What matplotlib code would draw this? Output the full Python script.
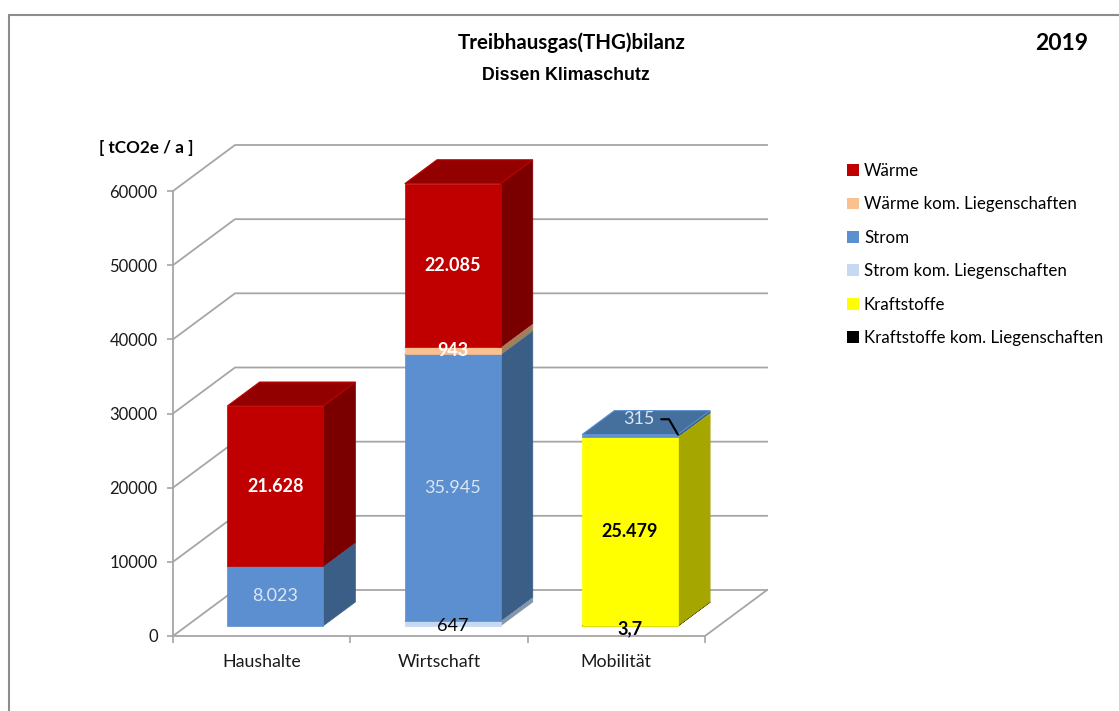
import numpy as np
import matplotlib
matplotlib.use('Agg')
import matplotlib.pyplot as plt
from matplotlib.patches import Polygon, Patch, Rectangle

# data
categories = ['Haushalte', 'Wirtschaft', 'Mobilität']
# stack order bottom -> top
series = ['Kraftstoffe kom. Liegenschaften', 'Kraftstoffe', 'Strom kom. Liegenschaften',
          'Strom', 'Wärme kom. Liegenschaften', 'Wärme']
kraft_kom = [0, 0, 3.7]
kraft = [0, 0, 25479]
strom_kom = [0, 647, 0]
strom = [8023, 35945, 315]
waerme_kom = [0, 943, 0]
waerme = [21628, 22085, 0]
values = [kraft_kom, kraft, strom_kom, strom, waerme_kom, waerme]
label_text = [['', '', '3,7'], ['', '', '25.479'], ['', '647', ''],
              ['8.023', '35.945', '315'], ['', '943', ''], ['21.628', '22.085', '']]

# front, side, top colours
colors = {
    'Wärme': ('#C00000', '#7A0000', '#920000'),
    'Wärme kom. Liegenschaften': ('#FAC090', '#A07E5E', '#D8A478'),
    'Strom': ('#5B8FD0', '#3A5E86', '#45709E'),
    'Strom kom. Liegenschaften': ('#C6D9F1', '#8494AA', '#A9BBD3'),
    'Kraftstoffe': ('#FFFF00', '#A6A600', '#CFCF00'),
    'Kraftstoffe kom. Liegenschaften': ('#000000', '#000000', '#1A1A1A'),
}
label_style = {
    'Wärme': ('white', 'bold'),
    'Wärme kom. Liegenschaften': ('white', 'bold'),
    'Strom': ('#DCE6F2', 'normal'),
    'Strom kom. Liegenschaften': ('black', 'normal'),
    'Kraftstoffe': ('black', 'bold'),
    'Kraftstoffe kom. Liegenschaften': ('black', 'bold'),
}

W, H = 1119, 711
fig = plt.figure(figsize=(W / 100, H / 100), dpi=100)
fig.patch.set_facecolor('white')
body = ['Lato', 'DejaVu Sans']

# outer frame
fig.patches.append(Rectangle((9 / W, -0.1), 1.2, 1 - 15 / H + 0.1, transform=fig.transFigure,
                             fill=False, edgecolor='#8c8c8c', lw=1.5))

ax = fig.add_axes([173 / W, 75 / H, (705 - 173) / W, (520 - 75) / H])
ax.set_xlim(-0.5, 2.5)
ax.set_ylim(0, 60000)
ax.set_facecolor('none')

# depth of the 3d box, in data units
Dx = 62 / 177.3
Dy = 46 * 60000 / 445
f0, f1 = 0.22, 0.74
bw = 0.54
grid_c = '#a6a6a6'

# back wall grid + floor
for v in range(0, 60001, 10000):
    ax.plot([-0.5, -0.5 + Dx, 2.5 + Dx], [v, v + Dy, v + Dy], color=grid_c, lw=1.3,
            clip_on=False, zorder=1)
ax.plot([2.5, 2.5 + Dx], [0, Dy], color=grid_c, lw=1.3, clip_on=False, zorder=1)

# bars
x = np.arange(len(categories))
bottoms = np.zeros(len(categories))
z = 3
for s, vals in zip(series, values):
    front, side, top = colors[s]
    for i, v in enumerate(vals):
        if v <= 0:
            continue
        b, t = bottoms[i], bottoms[i] + v
        x0, x1 = x[i] - bw / 2, x[i] + bw / 2
        ox0, oy0 = f0 * Dx, f0 * Dy
        ox1, oy1 = f1 * Dx, f1 * Dy
        ax.add_patch(Polygon([(x1 + ox0, b + oy0), (x1 + ox1, b + oy1), (x1 + ox1, t + oy1),
                              (x1 + ox0, t + oy0)], closed=True, facecolor=side,
                             edgecolor=side, lw=0.5, zorder=z, clip_on=False))
        ax.add_patch(Polygon([(x0 + ox0, t + oy0), (x1 + ox0, t + oy0), (x1 + ox1, t + oy1),
                              (x0 + ox1, t + oy1)], closed=True, facecolor=top,
                             edgecolor=front, lw=0.8, zorder=z, clip_on=False))
        ax.add_patch(Rectangle((x0 + ox0, b + oy0), bw, v, facecolor=front, edgecolor=front,
                               lw=0.5, zorder=z + 0.5, clip_on=False))
        z += 1
    bottoms += np.array(vals)

# value labels
bottoms = np.zeros(len(categories))
for s, vals, labs in zip(series, values, label_text):
    c, wgt = label_style[s]
    for i, v in enumerate(vals):
        if labs[i]:
            xc = x[i] + f0 * Dx
            if s == 'Strom' and categories[i] == 'Mobilität':
                tx, ty = x[i] + bw / 2 + f0 * Dx, bottoms[i] + v + f0 * Dy
                ax.annotate(labs[i], xy=(tx, ty), xytext=(-17, 11), textcoords='offset points',
                            ha='right', va='center', color=c, fontsize=13, family=body,
                            zorder=50, annotation_clip=False,
                            arrowprops=dict(arrowstyle='-', color='black', lw=1.5,
                                            shrinkA=3, shrinkB=0, relpos=(1, 0.5),
                                            connectionstyle='angle,angleA=0,angleB=120,rad=0'))
            else:
                # very thin segments: label sits a little lower, over the bar foot
                dy = -2 if v < 1000 and s != 'Wärme kom. Liegenschaften' else 0
                ax.annotate(labs[i], xy=(xc, bottoms[i] + v / 2 + f0 * Dy),
                            xytext=(0, dy), textcoords='offset points',
                            ha='center', va='center', color=c, fontweight=wgt,
                            fontsize=13, family=body, zorder=50, annotation_clip=False)
    bottoms += np.array(vals)

# axes styling
for sp in ['top', 'right']:
    ax.spines[sp].set_visible(False)
for sp in ['left', 'bottom']:
    ax.spines[sp].set_color(grid_c)
    ax.spines[sp].set_linewidth(1.3)
ax.set_yticks(range(0, 60001, 10000))
ax.tick_params(axis='y', direction='out', length=4, width=1.2, color=grid_c, pad=7,
               labelsize=12, labelcolor='#1a1a1a')
ax.set_xticks([-0.5, 0.5, 1.5, 2.5])
ax.set_xticklabels([])
ax.set_xticks(x, minor=True)
ax.set_xticklabels(categories, minor=True)
ax.tick_params(axis='x', which='major', direction='out', length=5, width=1.2, color=grid_c)
ax.tick_params(axis='x', which='minor', length=0, pad=13, labelsize=12.8, labelcolor='#1a1a1a')
for lab in ax.get_yticklabels() + ax.get_xticklabels(minor=True):
    lab.set_family(body)

# titles
fig.text(572 / W, 1 - 43 / H, 'Treibhausgas(THG)bilanz', ha='center', va='center',
         fontsize=14.8, fontweight='bold', family=body)
fig.text(566 / W, 1 - 75 / H, 'Dissen Klimaschutz', ha='center', va='center',
         fontsize=12.8, fontweight='bold', family=['Liberation Sans', 'DejaVu Sans'])
fig.text(1062 / W, 1 - 44 / H, '2019', ha='center', va='center',
         fontsize=16.5, fontweight='bold', family=body)
fig.text(146 / W, 1 - 148 / H, '[ tCO2e / a ]', ha='center', va='center',
         fontsize=12.3, fontweight='bold', family=body)

# legend
handles = [Patch(facecolor=colors[s][0], edgecolor='none') for s in series[::-1]]
leg = fig.legend(handles, series[::-1], loc='upper left',
                 bbox_to_anchor=(847 / W, 1 - 163 / H), frameon=False, fontsize=12.2,
                 handlelength=0.7, handleheight=0.7, handletextpad=0.3,
                 labelspacing=1.03, borderaxespad=0, borderpad=0)
for t in leg.get_texts():
    t.set_family(body)

fig.savefig('out.png', dpi=100, facecolor='white')
